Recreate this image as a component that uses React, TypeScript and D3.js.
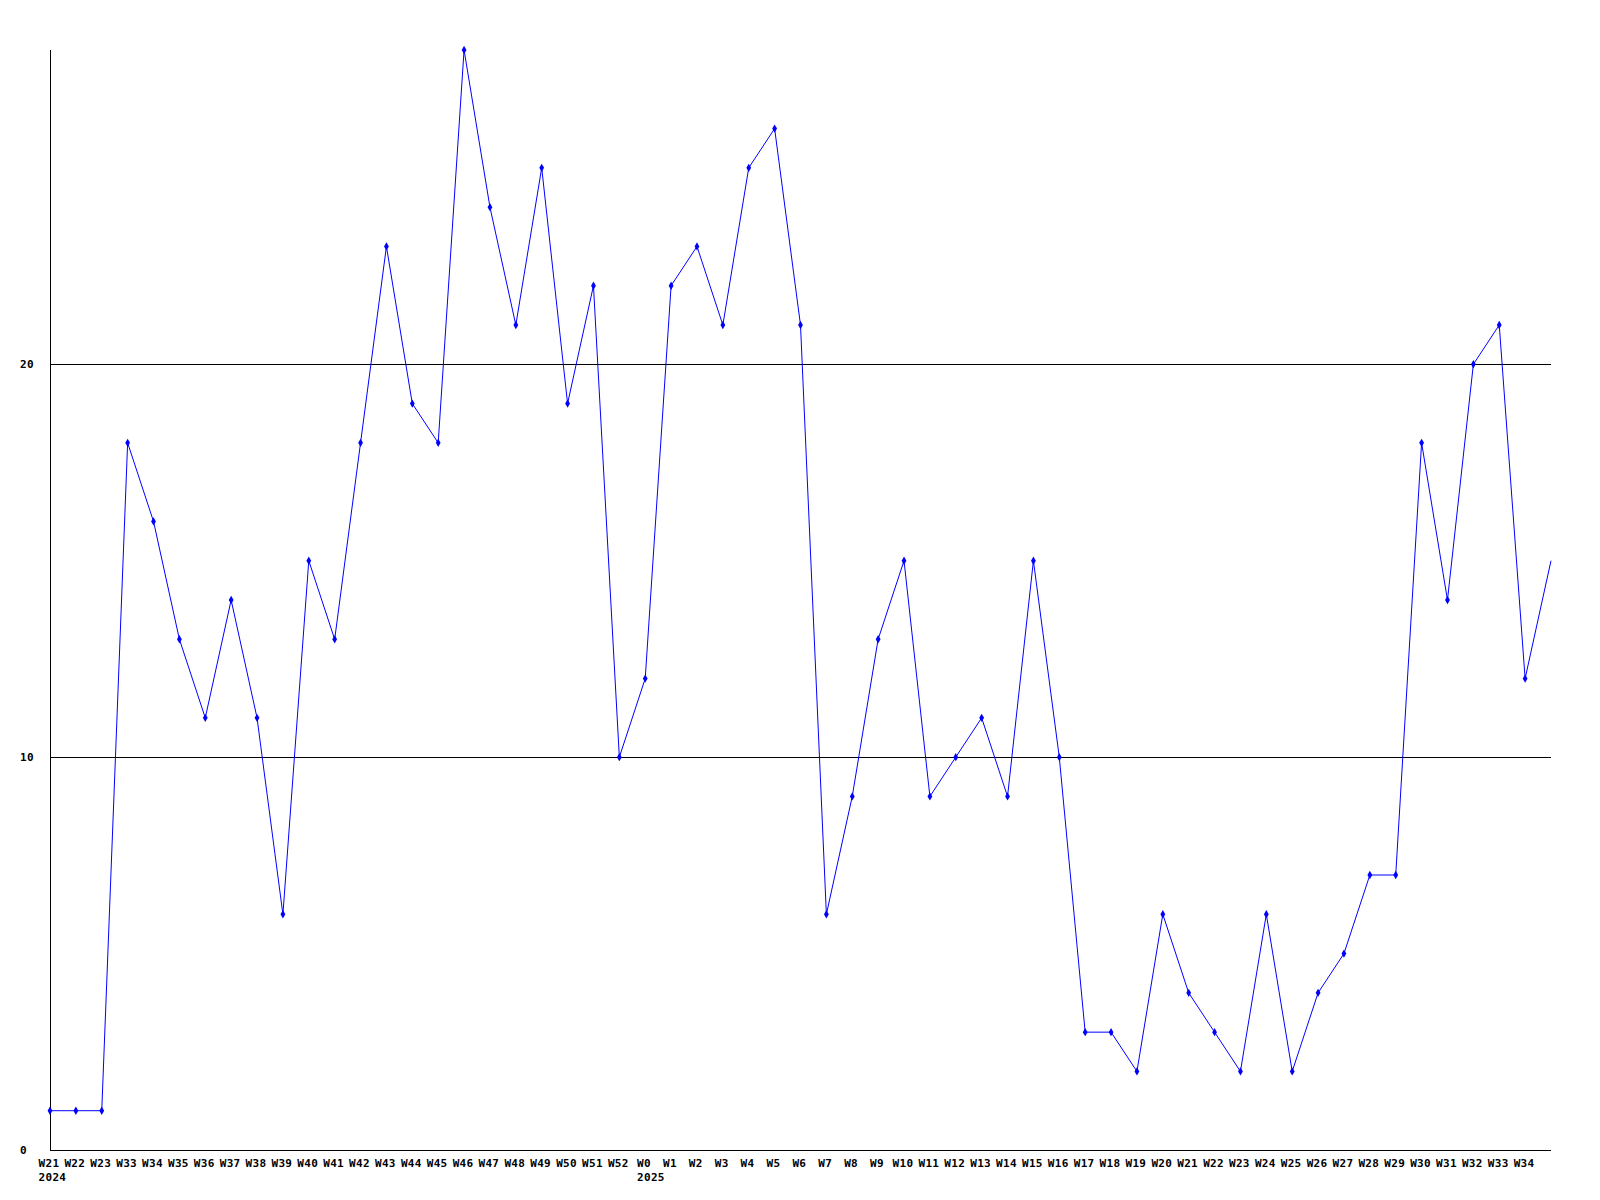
import React from "react";
import * as d3 from "d3";

const weekLabels = [
  "W21", "W22", "W23", "W33", "W34", "W35", "W36", "W37", "W38", "W39",
  "W40", "W41", "W42", "W43", "W44", "W45", "W46", "W47", "W48", "W49",
  "W50", "W51", "W52", "W0", "W1", "W2", "W3", "W4", "W5", "W6",
  "W7", "W8", "W9", "W10", "W11", "W12", "W13", "W14", "W15", "W16",
  "W17", "W18", "W19", "W20", "W21", "W22", "W23", "W24", "W25", "W26",
  "W27", "W28", "W29", "W30", "W31", "W32", "W33", "W34",
];

const yearLabels = [
  { index: 0, label: "2024" },
  { index: 23, label: "2025" },
];

const values = [
  1, 1, 1, 18, 16, 13, 11, 14, 11, 6,
  15, 13, 18, 23, 19, 18, 28, 24, 21, 25,
  19, 22, 10, 12, 22, 23, 21, 25, 26, 21,
  6, 9, 13, 15, 9, 10, 11, 9, 15, 10,
  3, 3, 2, 6, 4, 3, 2, 6, 2, 4,
  5, 7, 7, 18, 14, 20, 21, 12, 15,
];

const yTicks = [0, 10, 20];

const W = 1600;
const H = 1200;
const left = 50;
const right = 1551;
const top = 50;
const bottom = 1150;
const font = "'DejaVu Sans Mono', monospace";
const charW = 6.62;

export default function App() {
  const x = d3.scaleLinear().domain([0, values.length - 1]).range([left, right]);
  const y = d3.scaleLinear().domain([0, 28]).range([bottom, top]);
  const line = d3
    .line<number>()
    .x((_, i) => x(i))
    .y((d) => y(d));
  const marker = d3.symbol(d3.symbolDiamond, 20)();
  const labelStart = (i: number) => x(i) - 1.5 - (weekLabels[i].length * charW) / 2;

  return (
    <svg
      width={W}
      height={H}
      style={{ position: "absolute", left: 0, top: 0, background: "#fff" }}
    >
      <rect x={0} y={0} width={W} height={H} fill="#fff" />
      {yTicks
        .filter((t) => t > 0)
        .map((t) => (
          <line
            key={"g" + t}
            x1={left}
            x2={right}
            y1={Math.round(y(t)) + 0.5}
            y2={Math.round(y(t)) + 0.5}
            stroke="#000"
            strokeWidth={1}
          />
        ))}
      <line x1={left + 0.5} x2={left + 0.5} y1={top} y2={bottom + 0.5} stroke="#000" strokeWidth={1} />
      <line x1={left} x2={right} y1={bottom + 0.5} y2={bottom + 0.5} stroke="#000" strokeWidth={1} />
      {yTicks.map((t) => (
        <text
          key={"y" + t}
          x={20}
          y={y(t) + 4}
          fontFamily={font}
          fontWeight="bold"
          fontSize={11}
          letterSpacing={0.3}
          fill="#000"
        >
          {t}
        </text>
      ))}
      {weekLabels.map((l, i) => (
        <text
          key={"x" + i}
          x={labelStart(i)}
          y={1167}
          fontFamily={font}
          fontWeight="bold"
          fontSize={11}
          letterSpacing={0.3}
          fill="#000"
        >
          {l}
        </text>
      ))}
      {yearLabels.map((yl) => (
        <text
          key={"yr" + yl.index}
          x={labelStart(yl.index)}
          y={1181}
          fontFamily={font}
          fontWeight="bold"
          fontSize={11}
          letterSpacing={0.3}
          fill="#000"
        >
          {yl.label}
        </text>
      ))}
      <path d={line(values) || ""} fill="none" stroke="#0000ff" strokeWidth={1} />
      {values.slice(0, weekLabels.length).map((v, i) => (
        <path
          key={"m" + i}
          d={marker || ""}
          transform={`translate(${x(i)},${y(v)})`}
          fill="#0000ff"
        />
      ))}
    </svg>
  );
}
